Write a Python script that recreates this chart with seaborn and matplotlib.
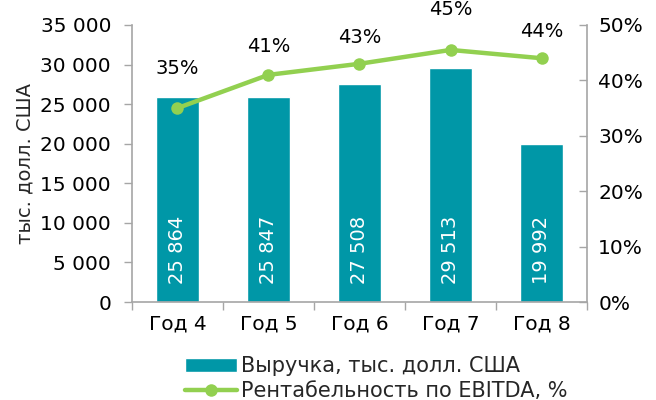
import matplotlib
matplotlib.use("Agg")
import matplotlib.pyplot as plt
from matplotlib.ticker import FuncFormatter, FixedLocator
import seaborn as sns
import pandas as pd

# data
years = ["Год 4", "Год 5", "Год 6", "Год 7", "Год 8"]
revenue = [25864, 25847, 27508, 29513, 19992]
ebitda_margin = [35.0, 41.0, 43.0, 45.5, 44.0]
margin_labels = ["35%", "41%", "43%", "45%", "44%"]

bar_name = "Выручка, тыс. долл. США"
line_name = "Рентабельность по EBITDA, %"

TEAL = "#0097A7"
GREEN = "#92D050"
GREY = "#A6A6A6"

sns.set_theme(style="white")
plt.rcParams["font.family"] = ["DejaVu Sans"]
plt.rcParams["font.size"] = 14

df = pd.DataFrame({"year": years, "revenue": revenue, "margin": ebitda_margin})

fig = plt.figure(figsize=(6.56, 4.0), dpi=100)
ax = fig.add_axes([0.201, 0.245, 0.694, 0.6925])

sns.barplot(data=df, x="year", y="revenue", color=TEAL, width=0.47,
            saturation=1, ax=ax, label=bar_name)

# white value labels inside the bars, rotated
for i, v in enumerate(revenue):
    txt = f"{v:,}".replace(",", " ")
    ax.annotate(txt, (i, 0), xytext=(0, 13), textcoords="offset points",
                rotation=90, ha="center", va="bottom", color="white", fontsize=14)

ax.set_ylim(0, 35000)
ax.set_yticks(range(0, 35001, 5000))
ax.yaxis.set_major_formatter(FuncFormatter(lambda v, p: f"{int(v):,}".replace(",", " ")))
ax.set_xlim(-0.5, len(years) - 0.5)
ax.set_xlabel("")
ax.set_ylabel("тыс. долл. США", fontsize=14, labelpad=4)

ax2 = ax.twinx()
sns.lineplot(data=df, x="year", y="margin", color=GREEN, linewidth=3.2,
             marker="o", markersize=9, markeredgewidth=0, ax=ax2, label=line_name)
ax2.set_ylim(0, 50)
ax2.set_yticks(range(0, 51, 10))
ax2.yaxis.set_major_formatter(FuncFormatter(lambda v, p: f"{int(v)}%"))
ax2.set_ylabel("")

label_offsets = [21.5, 13.5, 12, 22, 12.5]
for i, (v, lab) in enumerate(zip(ebitda_margin, margin_labels)):
    ax2.annotate(lab, (i, v), xytext=(0, label_offsets[i]), textcoords="offset points",
                 ha="center", va="bottom", fontsize=14, color="black")

# axis styling, Excel-like
for a in (ax, ax2):
    a.spines["top"].set_visible(False)
    for side in ("left", "right", "bottom"):
        a.spines[side].set_color(GREY)
        a.spines[side].set_linewidth(1.2)
ax.spines["right"].set_visible(False)
ax2.spines["left"].set_visible(False)
ax2.spines["bottom"].set_visible(False)

ax.tick_params(axis="y", which="major", left=True, length=6, width=1, color=GREY,
               direction="out", labelsize=14.5, pad=9, labelcolor="black")
ax2.tick_params(axis="y", which="major", right=True, length=6, width=1, color=GREY,
                direction="in", labelsize=14.5, pad=8, labelcolor="black")
ax.tick_params(axis="x", which="major", length=0, labelsize=14.5, pad=9, labelcolor="black")
ax.xaxis.set_minor_locator(FixedLocator([i - 0.5 for i in range(len(years) + 1)]))
ax.tick_params(axis="x", which="minor", bottom=True, length=6, width=1, color=GREY,
               direction="out")

if ax.get_legend():
    ax.get_legend().remove()
if ax2.get_legend():
    ax2.get_legend().remove()
h1, l1 = ax.get_legend_handles_labels()
h2, l2 = ax2.get_legend_handles_labels()
fig.legend(h1 + h2, l1 + l2, loc="upper left", bbox_to_anchor=(0.266, 0.135),
           frameon=False, fontsize=15, handlelength=2.5, handletextpad=0.2,
           labelspacing=0.22, borderpad=0.0)

fig.savefig("out.png", dpi=100)
